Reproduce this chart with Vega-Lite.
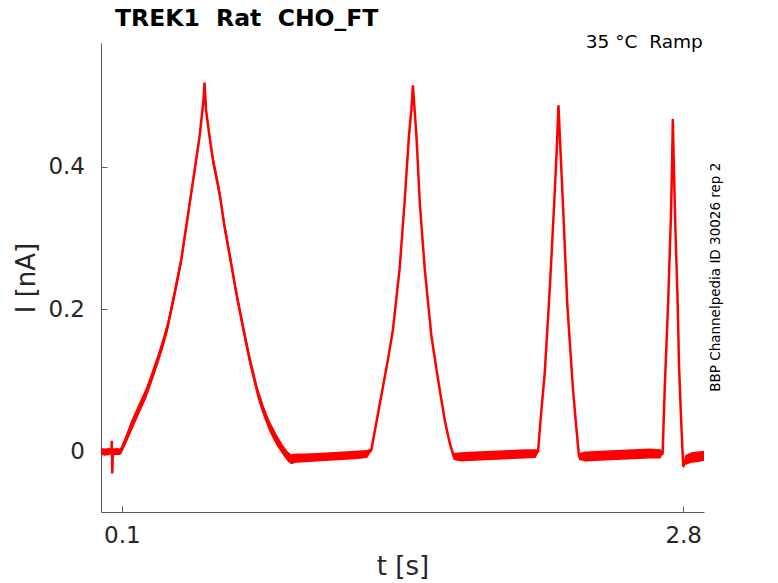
{
  "$schema": "https://vega.github.io/schema/vega-lite/v6.json",
  "width": 603,
  "height": 469,
  "autosize": "none",
  "padding": {"left": 101, "top": 43, "right": 74, "bottom": 71},
  "background": "white",
  "title": {
    "text": "TREK1\u00a0\u00a0Rat\u00a0\u00a0CHO_FT",
    "anchor": "start",
    "frame": "group",
    "dx": 14,
    "dy": 24,
    "offset": 7,
    "baseline": "alphabetic",
    "font": "DejaVu Sans",
    "fontSize": 23.5,
    "fontWeight": "bold",
    "color": "black"
  },
  "config": {
    "view": {"stroke": null},
    "font": "DejaVu Sans",
    "axis": {
      "grid": false,
      "domainColor": "#5a5a5a",
      "tickColor": "#5a5a5a",
      "labelColor": "#262626",
      "titleColor": "#262626",
      "labelFont": "DejaVu Sans",
      "titleFont": "DejaVu Sans",
      "labelFontSize": 23,
      "titleFontSize": 26,
      "titleFontWeight": "normal",
      "tickSize": -6
    }
  },
  "datasets": {
    "trace": [
      {"t": 0.000, "I": 0.000, "lo": -0.005, "hi": 0.005},
      {"t": 0.020, "I": -0.001, "lo": -0.006, "hi": 0.004},
      {"t": 0.040, "I": 0.000, "lo": -0.005, "hi": 0.005},
      {"t": 0.050, "I": 0.000, "lo": -0.004, "hi": 0.004},
      {"t": 0.052, "I": 0.015, "lo": 0.015, "hi": 0.015},
      {"t": 0.054, "I": -0.031, "lo": -0.031, "hi": -0.031},
      {"t": 0.057, "I": -0.001, "lo": -0.005, "hi": 0.004},
      {"t": 0.075, "I": 0.000, "lo": -0.005, "hi": 0.005},
      {"t": 0.090, "I": 0.000, "lo": -0.005, "hi": 0.004},
      {"t": 0.097, "I": 0.002, "lo": -0.004, "hi": 0.007},
      {"t": 0.120, "I": 0.017, "lo": 0.010, "hi": 0.024},
      {"t": 0.145, "I": 0.035, "lo": 0.027, "hi": 0.043},
      {"t": 0.180, "I": 0.058, "lo": 0.050, "hi": 0.066},
      {"t": 0.217, "I": 0.082, "lo": 0.074, "hi": 0.090},
      {"t": 0.245, "I": 0.105, "lo": 0.097, "hi": 0.113},
      {"t": 0.273, "I": 0.129, "lo": 0.121, "hi": 0.137},
      {"t": 0.298, "I": 0.152, "lo": 0.144, "hi": 0.160},
      {"t": 0.321, "I": 0.176, "lo": 0.168, "hi": 0.184},
      {"t": 0.354, "I": 0.222, "lo": 0.214, "hi": 0.230},
      {"t": 0.386, "I": 0.269, "lo": 0.261, "hi": 0.277},
      {"t": 0.410, "I": 0.316, "lo": 0.308, "hi": 0.324},
      {"t": 0.434, "I": 0.363, "lo": 0.355, "hi": 0.371},
      {"t": 0.458, "I": 0.410, "lo": 0.402, "hi": 0.418},
      {"t": 0.474, "I": 0.442, "lo": 0.435, "hi": 0.449},
      {"t": 0.483, "I": 0.466, "lo": 0.459, "hi": 0.473},
      {"t": 0.492, "I": 0.490, "lo": 0.484, "hi": 0.496},
      {"t": 0.498, "I": 0.518, "lo": 0.518, "hi": 0.518},
      {"t": 0.505, "I": 0.480, "lo": 0.474, "hi": 0.486},
      {"t": 0.522, "I": 0.442, "lo": 0.435, "hi": 0.449},
      {"t": 0.538, "I": 0.410, "lo": 0.402, "hi": 0.418},
      {"t": 0.570, "I": 0.363, "lo": 0.355, "hi": 0.371},
      {"t": 0.594, "I": 0.316, "lo": 0.308, "hi": 0.324},
      {"t": 0.623, "I": 0.269, "lo": 0.261, "hi": 0.277},
      {"t": 0.651, "I": 0.222, "lo": 0.214, "hi": 0.230},
      {"t": 0.682, "I": 0.176, "lo": 0.168, "hi": 0.184},
      {"t": 0.715, "I": 0.129, "lo": 0.121, "hi": 0.137},
      {"t": 0.754, "I": 0.082, "lo": 0.074, "hi": 0.090},
      {"t": 0.783, "I": 0.056, "lo": 0.048, "hi": 0.064},
      {"t": 0.811, "I": 0.035, "lo": 0.027, "hi": 0.043},
      {"t": 0.845, "I": 0.016, "lo": 0.008, "hi": 0.024},
      {"t": 0.875, "I": 0.002, "lo": -0.005, "hi": 0.009},
      {"t": 0.898, "I": -0.007, "lo": -0.014, "hi": 0.000},
      {"t": 0.915, "I": -0.011, "lo": -0.018, "hi": -0.004},
      {"t": 0.940, "I": -0.010, "lo": -0.016, "hi": -0.003},
      {"t": 0.980, "I": -0.009, "lo": -0.015, "hi": -0.003},
      {"t": 1.040, "I": -0.008, "lo": -0.014, "hi": -0.002},
      {"t": 1.100, "I": -0.007, "lo": -0.013, "hi": -0.001},
      {"t": 1.160, "I": -0.006, "lo": -0.012, "hi": 0.000},
      {"t": 1.220, "I": -0.005, "lo": -0.011, "hi": 0.001},
      {"t": 1.280, "I": -0.004, "lo": -0.009, "hi": 0.002},
      {"t": 1.300, "I": 0.002, "lo": 0.000, "hi": 0.004},
      {"t": 1.324, "I": 0.040, "lo": 0.040, "hi": 0.040},
      {"t": 1.356, "I": 0.091, "lo": 0.091, "hi": 0.091},
      {"t": 1.380, "I": 0.129, "lo": 0.129, "hi": 0.129},
      {"t": 1.404, "I": 0.171, "lo": 0.171, "hi": 0.171},
      {"t": 1.436, "I": 0.256, "lo": 0.256, "hi": 0.256},
      {"t": 1.460, "I": 0.350, "lo": 0.350, "hi": 0.350},
      {"t": 1.481, "I": 0.443, "lo": 0.443, "hi": 0.443},
      {"t": 1.493, "I": 0.481, "lo": 0.481, "hi": 0.481},
      {"t": 1.500, "I": 0.514, "lo": 0.514, "hi": 0.514},
      {"t": 1.517, "I": 0.443, "lo": 0.443, "hi": 0.443},
      {"t": 1.533, "I": 0.350, "lo": 0.350, "hi": 0.350},
      {"t": 1.557, "I": 0.256, "lo": 0.256, "hi": 0.256},
      {"t": 1.589, "I": 0.162, "lo": 0.162, "hi": 0.162},
      {"t": 1.621, "I": 0.101, "lo": 0.101, "hi": 0.101},
      {"t": 1.653, "I": 0.044, "lo": 0.044, "hi": 0.044},
      {"t": 1.677, "I": 0.012, "lo": 0.010, "hi": 0.014},
      {"t": 1.696, "I": -0.007, "lo": -0.012, "hi": -0.002},
      {"t": 1.730, "I": -0.008, "lo": -0.014, "hi": -0.001},
      {"t": 1.800, "I": -0.007, "lo": -0.013, "hi": 0.000},
      {"t": 1.880, "I": -0.006, "lo": -0.012, "hi": 0.001},
      {"t": 1.960, "I": -0.005, "lo": -0.011, "hi": 0.002},
      {"t": 2.040, "I": -0.004, "lo": -0.010, "hi": 0.003},
      {"t": 2.090, "I": -0.003, "lo": -0.009, "hi": 0.003},
      {"t": 2.102, "I": 0.000, "lo": -0.002, "hi": 0.002},
      {"t": 2.118, "I": 0.058, "lo": 0.058, "hi": 0.058},
      {"t": 2.134, "I": 0.110, "lo": 0.110, "hi": 0.110},
      {"t": 2.158, "I": 0.227, "lo": 0.227, "hi": 0.227},
      {"t": 2.179, "I": 0.345, "lo": 0.345, "hi": 0.345},
      {"t": 2.192, "I": 0.425, "lo": 0.425, "hi": 0.425},
      {"t": 2.200, "I": 0.486, "lo": 0.486, "hi": 0.486},
      {"t": 2.211, "I": 0.415, "lo": 0.415, "hi": 0.415},
      {"t": 2.222, "I": 0.345, "lo": 0.345, "hi": 0.345},
      {"t": 2.243, "I": 0.204, "lo": 0.204, "hi": 0.204},
      {"t": 2.270, "I": 0.087, "lo": 0.087, "hi": 0.087},
      {"t": 2.287, "I": 0.030, "lo": 0.030, "hi": 0.030},
      {"t": 2.299, "I": -0.007, "lo": -0.012, "hi": -0.002},
      {"t": 2.330, "I": -0.007, "lo": -0.014, "hi": 0.000},
      {"t": 2.400, "I": -0.006, "lo": -0.013, "hi": 0.001},
      {"t": 2.480, "I": -0.005, "lo": -0.012, "hi": 0.002},
      {"t": 2.560, "I": -0.004, "lo": -0.011, "hi": 0.003},
      {"t": 2.640, "I": -0.003, "lo": -0.010, "hi": 0.004},
      {"t": 2.690, "I": -0.003, "lo": -0.010, "hi": 0.003},
      {"t": 2.701, "I": -0.003, "lo": -0.005, "hi": 0.000},
      {"t": 2.712, "I": 0.096, "lo": 0.096, "hi": 0.096},
      {"t": 2.728, "I": 0.213, "lo": 0.213, "hi": 0.213},
      {"t": 2.741, "I": 0.331, "lo": 0.331, "hi": 0.331},
      {"t": 2.747, "I": 0.411, "lo": 0.411, "hi": 0.411},
      {"t": 2.750, "I": 0.467, "lo": 0.467, "hi": 0.467},
      {"t": 2.755, "I": 0.401, "lo": 0.401, "hi": 0.401},
      {"t": 2.763, "I": 0.307, "lo": 0.307, "hi": 0.307},
      {"t": 2.773, "I": 0.213, "lo": 0.213, "hi": 0.213},
      {"t": 2.780, "I": 0.119, "lo": 0.119, "hi": 0.119},
      {"t": 2.790, "I": 0.044, "lo": 0.044, "hi": 0.044},
      {"t": 2.800, "I": -0.021, "lo": -0.024, "hi": -0.018},
      {"t": 2.810, "I": -0.012, "lo": -0.019, "hi": -0.005},
      {"t": 2.840, "I": -0.009, "lo": -0.016, "hi": -0.001},
      {"t": 2.870, "I": -0.008, "lo": -0.015, "hi": 0.000},
      {"t": 2.900, "I": -0.006, "lo": -0.013, "hi": 0.001}
    ],
    "notes": [
      {"t": 2.894, "I": 0.567, "label": "35 °C\u00a0\u00a0Ramp", "kind": "cond"},
      {"t": 2.976, "I": 0.2447, "label": "BBP Channelpedia ID 30026 rep 2", "kind": "id"}
    ]
  },
  "encoding": {
    "x": {
      "field": "t",
      "type": "quantitative",
      "title": "t [s]",
      "scale": {"domain": [0, 2.9], "nice": false, "zero": false},
      "axis": {"values": [0.1, 2.8], "format": ".2~g", "labelPadding": 18, "titlePadding": 6}
    },
    "y": {
      "field": "I",
      "type": "quantitative",
      "title": "I [nA]",
      "scale": {"domain": [-0.085, 0.5736], "nice": false, "zero": false},
      "axis": {"values": [0, 0.2, 0.4], "format": ".1~g", "labelPadding": 22.5, "titlePadding": 8}
    }
  },
  "layer": [
    {
      "data": {"name": "trace"},
      "mark": {"type": "area", "color": "#ff0000", "opacity": 1},
      "encoding": {
        "y": {"field": "lo", "type": "quantitative", "title": "I [nA]"},
        "y2": {"field": "hi"}
      }
    },
    {
      "data": {"name": "trace"},
      "mark": {"type": "line", "color": "#ff0000", "strokeWidth": 2.5}
    },
    {
      "data": {"name": "notes"},
      "transform": [{"filter": "datum.kind == 'cond'"}],
      "mark": {"type": "text", "align": "right", "baseline": "alphabetic", "fontSize": 18.5, "color": "black", "font": "DejaVu Sans"},
      "encoding": {"text": {"field": "label"}}
    },
    {
      "data": {"name": "notes"},
      "transform": [{"filter": "datum.kind == 'id'"}],
      "mark": {"type": "text", "align": "center", "baseline": "alphabetic", "angle": 270, "fontSize": 13.5, "color": "black", "font": "DejaVu Sans"},
      "encoding": {"text": {"field": "label"}}
    }
  ]
}
